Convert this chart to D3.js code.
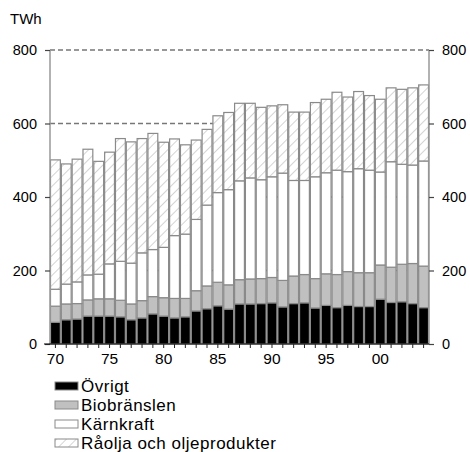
<!DOCTYPE html>
<html>
<head>
<meta charset="utf-8">
<script src="https://cdn.jsdelivr.net/npm/d3@7"></script>
<style>
  html, body { margin: 0; padding: 0; background: #fff; }
  svg { display: block; font-family: "Liberation Sans", Arial, sans-serif; }
</style>
</head>
<body>
<svg id="chart" width="470" height="452"></svg>
<script>
const years = d3.range(1970, 2005);
const ovrigt = [59,66,68,76,76,76,74,66,71,82,76,71,74,90,96,104,95,109,109,110,112,101,110,112,98,105,99,105,102,102,122,113,115,110,99];
const biobranslen = [44,43,42,44,47,47,45,43,47,47,50,53,50,55,62,64,66,66,68,68,69,72,75,77,80,86,90,92,92,92,93,96,102,109,113];
const karnkraft = [46,54,59,68,67,95,106,111,130,128,137,171,175,194,220,244,259,269,275,269,274,292,260,256,277,275,284,272,283,279,253,287,272,268,286];
const olja = [352,327,334,342,307,304,334,330,311,316,286,263,243,216,206,209,210,211,203,197,193,186,186,186,202,200,212,203,210,203,198,201,204,210,207];
const seriesNames = ["Övrigt", "Biobränslen", "Kärnkraft", "Råolja och oljeprodukter"];
const yTicks = [0, 200, 400, 600, 800];
const xLabelYears = [1970, 1975, 1980, 1985, 1990, 1995, 2000];

(function () {
const svg = d3.select("#chart");
const mL = 50, mR = 429, mT = 50, mB = 344;

const defs = svg.append("defs");
const pat = defs.append("pattern")
  .attr("id", "hatch").attr("patternUnits", "userSpaceOnUse")
  .attr("width", 7).attr("height", 7)
  .attr("patternTransform", "rotate(45)");
pat.append("rect").attr("width", 7).attr("height", 7).attr("fill", "#fff");
pat.append("line").attr("x1", 0).attr("y1", 0).attr("x2", 0).attr("y2", 7)
  .attr("stroke", "#b8b8b8").attr("stroke-width", 1.2);

const fills = ["#000000", "#c0c0c0", "#ffffff", "url(#hatch)"];

const x = d3.scaleBand().domain(years).range([mL, mR]).padding(0);
const y = d3.scaleLinear().domain([0, 800]).range([mB, mT]);

const data = years.map((yr, i) => ({
  year: yr, s0: ovrigt[i], s1: biobranslen[i], s2: karnkraft[i], s3: olja[i]
}));
const stacked = d3.stack().keys(["s0", "s1", "s2", "s3"])(data);

// gridlines
svg.append("g").selectAll("line").data(yTicks.filter(d => d > 0)).join("line")
  .attr("x1", mL).attr("x2", mR)
  .attr("y1", d => y(d)).attr("y2", d => y(d))
  .attr("stroke", "#777").attr("stroke-width", 1.5)
  .attr("stroke-dasharray", "5,3");

// bars
svg.append("g").selectAll("g").data(stacked).join("g")
  .attr("fill", (d, i) => fills[i])
  .selectAll("rect").data(d => d).join("rect")
  .attr("x", d => x(d.data.year) + 0.5)
  .attr("width", x.bandwidth() - 1)
  .attr("y", d => y(d[1]))
  .attr("height", d => y(d[0]) - y(d[1]))
  .attr("stroke", "#8a8a8a").attr("stroke-width", 1.2);

// y axes
const yAxisL = svg.append("g").attr("transform", `translate(${mL},0)`)
  .call(d3.axisLeft(y).tickValues(yTicks).tickSize(5).tickPadding(8));
const yAxisR = svg.append("g").attr("transform", `translate(${mR},0)`)
  .call(d3.axisRight(y).tickValues(yTicks).tickSize(5).tickPadding(8));
[yAxisL, yAxisR].forEach(g => {
  g.select(".domain").attr("stroke", "#999").attr("stroke-width", 1.5)
    .attr("d", `M0,${mB}V${mT}`);
  g.selectAll(".tick line").attr("stroke", "#444").attr("stroke-width", 1.2);
  g.selectAll("text").attr("font-size", 14.5).attr("fill", "#000")
    .attr("font-family", "Liberation Sans, Arial, sans-serif");
});

// x axis
const xAxis = svg.append("g").attr("transform", `translate(0,${mB})`)
  .call(d3.axisBottom(x).tickSize(4).tickPadding(5)
    .tickFormat(d => xLabelYears.includes(d) ? String(d).slice(2) : ""));
xAxis.select(".domain").attr("stroke", "#000").attr("stroke-width", 1.2)
  .attr("d", `M${mL - 6},0H${mR}`);
xAxis.selectAll(".tick line").attr("stroke", "#222").attr("stroke-width", 1);
xAxis.selectAll("text").attr("font-size", 15.5).attr("fill", "#000")
  .attr("font-family", "Liberation Sans, Arial, sans-serif");

// unit label
svg.append("text").attr("x", 10).attr("y", 24).attr("font-size", 15).text("TWh");

// legend
const legend = svg.append("g");
seriesNames.forEach((name, i) => {
  const cy = 386 + i * 19;
  legend.append("rect").attr("x", 55).attr("y", cy - 4).attr("width", 23).attr("height", 8)
    .attr("fill", fills[i]).attr("stroke", "#8a8a8a").attr("stroke-width", 1);
  legend.append("text").attr("x", 81).attr("y", cy + 6).attr("font-size", 17)
    .attr("letter-spacing", 0.5)
    .attr("fill", "#000").text(name);
});
})();
</script>
</body>
</html>
